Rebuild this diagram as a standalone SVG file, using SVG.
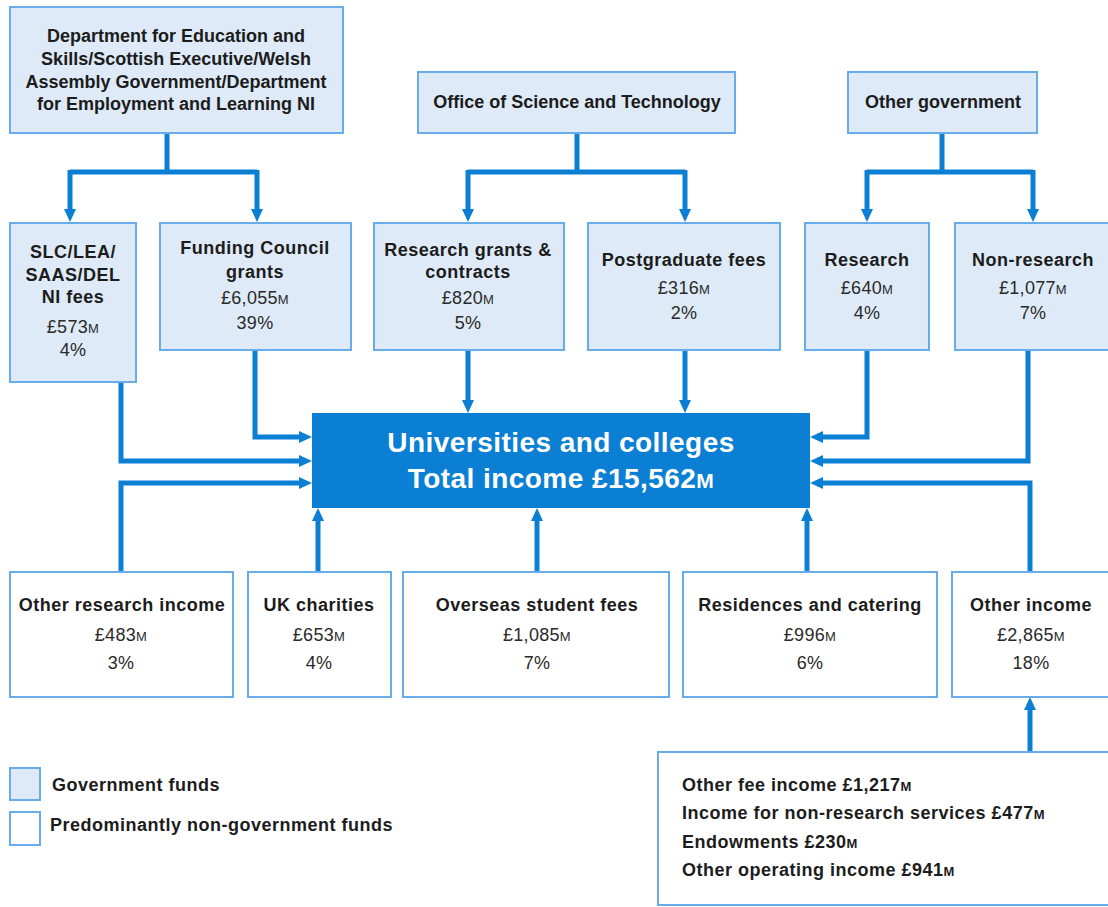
<svg xmlns="http://www.w3.org/2000/svg" width="1108" height="907" viewBox="0 0 1108 907">
  <style>
    .gov { fill: #deeaf7; stroke: #68ace9; stroke-width: 2; }
    .non { fill: #ffffff; stroke: #68ace9; stroke-width: 2; }
    .hub { fill: #0a7fd4; }
    .lbl { font-family: "Liberation Sans", Arial, sans-serif; font-size: 18px; font-weight: bold; fill: #1c1c1c; text-anchor: middle; letter-spacing: 0.5px; }
    .src { letter-spacing: 0; }
    .val { font-family: "Liberation Sans", Arial, sans-serif; font-size: 18px; fill: #2a2a2a; text-anchor: middle; letter-spacing: 0.3px; }
    .left { text-anchor: start; }
    .hubtxt { font-family: "Liberation Sans", Arial, sans-serif; font-size: 28px; font-weight: bold; fill: #ffffff; text-anchor: middle; letter-spacing: 0.45px; }
    .sm { font-size: 13px; }
    .hubsm { font-size: 21px; }
    .wire { fill: none; stroke: #0a7fd4; stroke-width: 5; }
  </style>
  <defs>
    <marker id="arrow" markerUnits="userSpaceOnUse" markerWidth="14" markerHeight="14" viewBox="0 -7 14 14" refX="0" refY="0" orient="auto">
      <path d="M0,-6 L13,0 L0,6 z" fill="#0a7fd4"/>
    </marker>
  </defs>

  <!-- connectors -->
  <g id="connectors">
    <path class="wire" d="M167,133 V172 M70,172 H257"/>
    <path class="wire" d="M577,133 V172 M468,172 H685"/>
    <path class="wire" d="M942,133 V172 M867,172 H1033"/>
    <g marker-end="url(#arrow)">
      <path class="wire" d="M70,170 V209"/>
      <path class="wire" d="M257,170 V209"/>
      <path class="wire" d="M468,170 V209"/>
      <path class="wire" d="M685,170 V209"/>
      <path class="wire" d="M867,170 V209"/>
      <path class="wire" d="M1033,170 V209"/>
      <path class="wire" d="M121,382 V461 H299"/>
      <path class="wire" d="M255,350 V437 H299"/>
      <path class="wire" d="M468,350 V400"/>
      <path class="wire" d="M685,350 V400"/>
      <path class="wire" d="M867,350 V437 H823"/>
      <path class="wire" d="M1028,350 V461 H823"/>
      <path class="wire" d="M121,572 V483 H299"/>
      <path class="wire" d="M318,572 V521"/>
      <path class="wire" d="M537,572 V521"/>
      <path class="wire" d="M807,572 V521"/>
      <path class="wire" d="M1030,572 V483 H823"/>
      <path class="wire" d="M1030,752 V710"/>
    </g>
  </g>

  <!-- funding bodies -->
  <g id="dfes">
    <rect class="gov" x="10" y="7" width="333" height="126"/>
    <text class="lbl src" x="176" y="42">Department for Education and</text>
    <text class="lbl src" x="176" y="65">Skills/Scottish Executive/Welsh</text>
    <text class="lbl src" x="176" y="88">Assembly Government/Department</text>
    <text class="lbl src" x="176" y="110">for Employment and Learning NI</text>
  </g>
  <g id="ost">
    <rect class="gov" x="418" y="72" width="317" height="61"/>
    <text class="lbl src" x="577" y="108">Office of Science and Technology</text>
  </g>
  <g id="othergov">
    <rect class="gov" x="848" y="72" width="189" height="61"/>
    <text class="lbl src" x="943" y="108">Other government</text>
  </g>

  <!-- government income streams -->
  <g id="slc">
    <rect class="gov" x="10" y="223" width="126" height="159"/>
    <text class="lbl" x="73" y="258">SLC/LEA/</text>
    <text class="lbl" x="73" y="281">SAAS/DEL</text>
    <text class="lbl" x="73" y="303">NI fees</text>
    <text class="val" x="73" y="333">£573<tspan class="sm">M</tspan></text>
    <text class="val" x="73" y="356">4%</text>
  </g>
  <g id="fc">
    <rect class="gov" x="160" y="223" width="191" height="127"/>
    <text class="lbl" x="255" y="254">Funding Council</text>
    <text class="lbl" x="255" y="278">grants</text>
    <text class="val" x="255" y="304">£6,055<tspan class="sm">M</tspan></text>
    <text class="val" x="255" y="329">39%</text>
  </g>
  <g id="rgc">
    <rect class="gov" x="374" y="223" width="190" height="127"/>
    <text class="lbl" x="468" y="256">Research grants &amp;</text>
    <text class="lbl" x="468" y="278">contracts</text>
    <text class="val" x="468" y="304">£820<tspan class="sm">M</tspan></text>
    <text class="val" x="468" y="329">5%</text>
  </g>
  <g id="pgfees">
    <rect class="gov" x="588" y="223" width="192" height="127"/>
    <text class="lbl" x="684" y="266">Postgraduate fees</text>
    <text class="val" x="684" y="294">£316<tspan class="sm">M</tspan></text>
    <text class="val" x="684" y="319">2%</text>
  </g>
  <g id="research">
    <rect class="gov" x="805" y="223" width="124" height="127"/>
    <text class="lbl" x="867" y="266">Research</text>
    <text class="val" x="867" y="294">£640<tspan class="sm">M</tspan></text>
    <text class="val" x="867" y="319">4%</text>
  </g>
  <g id="nonresearch">
    <rect class="gov" x="955" y="223" width="160" height="127"/>
    <text class="lbl" x="1033" y="266">Non-research</text>
    <text class="val" x="1033" y="294">£1,077<tspan class="sm">M</tspan></text>
    <text class="val" x="1033" y="319">7%</text>
  </g>

  <!-- total -->
  <g id="total">
    <rect class="hub" x="312" y="413" width="498" height="95"/>
    <text class="hubtxt" x="561" y="452">Universities and colleges</text>
    <text class="hubtxt" x="561" y="488">Total income £15,562<tspan class="hubsm">M</tspan></text>
  </g>

  <!-- other income streams -->
  <g id="otherresearch">
    <rect class="non" x="10" y="572" width="223" height="125"/>
    <text class="lbl" x="122" y="611">Other research income</text>
    <text class="val" x="121" y="641">£483<tspan class="sm">M</tspan></text>
    <text class="val" x="121" y="669">3%</text>
  </g>
  <g id="charities">
    <rect class="non" x="248" y="572" width="143" height="125"/>
    <text class="lbl" x="319" y="611">UK charities</text>
    <text class="val" x="319" y="641">£653<tspan class="sm">M</tspan></text>
    <text class="val" x="319" y="669">4%</text>
  </g>
  <g id="overseas">
    <rect class="non" x="403" y="572" width="266" height="125"/>
    <text class="lbl" x="537" y="611">Overseas student fees</text>
    <text class="val" x="537" y="641">£1,085<tspan class="sm">M</tspan></text>
    <text class="val" x="537" y="669">7%</text>
  </g>
  <g id="residences">
    <rect class="non" x="683" y="572" width="254" height="125"/>
    <text class="lbl" x="810" y="611">Residences and catering</text>
    <text class="val" x="810" y="641">£996<tspan class="sm">M</tspan></text>
    <text class="val" x="810" y="669">6%</text>
  </g>
  <g id="otherincome">
    <rect class="non" x="952" y="572" width="163" height="125"/>
    <text class="lbl" x="1031" y="611">Other income</text>
    <text class="val" x="1031" y="641">£2,865<tspan class="sm">M</tspan></text>
    <text class="val" x="1031" y="669">18%</text>
  </g>
  <g id="otherbreakdown">
    <rect class="non" x="658" y="752" width="457" height="153"/>
    <text class="lbl left" x="682" y="791">Other fee income £1,217<tspan class="sm">M</tspan></text>
    <text class="lbl left" x="682" y="819">Income for non-research services £477<tspan class="sm">M</tspan></text>
    <text class="lbl left" x="682" y="848">Endowments £230<tspan class="sm">M</tspan></text>
    <text class="lbl left" x="682" y="876">Other operating income £941<tspan class="sm">M</tspan></text>
  </g>

  <!-- key -->
  <g id="legend">
    <rect class="gov" x="10" y="768" width="30" height="32"/>
    <text class="lbl left" x="52" y="791">Government funds</text>
    <rect class="non" x="10" y="812" width="30" height="33"/>
    <text class="lbl left" x="50" y="831">Predominantly non-government funds</text>
  </g>
</svg>
